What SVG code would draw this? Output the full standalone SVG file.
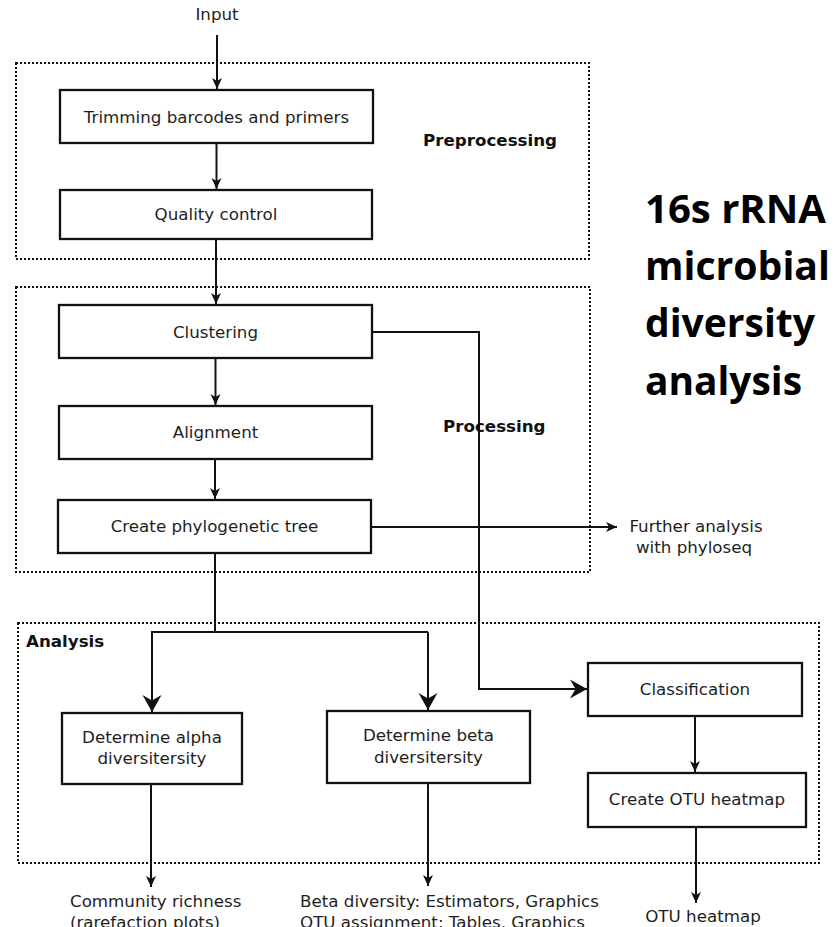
<svg xmlns="http://www.w3.org/2000/svg" width="837" height="927" viewBox="0 0 837 927">
<style>
.t{font-family:"DejaVu Sans",sans-serif;font-size:16.7px;fill:#1e1e1e}
.c{text-anchor:middle}
.b{font-family:"DejaVu Sans",sans-serif;font-size:16.7px;font-weight:bold;fill:#111}
.ti{font-family:"Open Sans","Liberation Sans",sans-serif;font-size:40px;font-weight:bold;fill:#000}
.box{fill:#fff;stroke:#111;stroke-width:2.3}
.grp{fill:none;stroke:#111;stroke-width:2;stroke-dasharray:2 2}
.ln{fill:none;stroke:#111;stroke-width:2}
.s{marker-end:url(#sm)}
.l{marker-end:url(#lg)}
</style>
<defs>
<marker id="sm" viewBox="-14 -8 16 16" markerWidth="16" markerHeight="16" refX="0" refY="0" orient="auto" markerUnits="userSpaceOnUse" overflow="visible">
<path d="M0,0 L-11,-5 L-8,0 L-11,5 Z" fill="#111"/>
</marker>
<marker id="lg" viewBox="-20 -11 22 22" markerWidth="22" markerHeight="22" refX="0" refY="0" orient="auto" markerUnits="userSpaceOnUse" overflow="visible">
<path d="M0,0 L-17,-9.5 L-11.5,0 L-17,9.5 Z" fill="#111"/>
</marker>
</defs>
<rect width="837" height="927" fill="#fff"/>

<g id="groups">
<g id="preprocessing"><rect class="grp" x="16" y="63" width="573" height="196"/><text class="b" x="423" y="146">Preprocessing</text></g>
<g id="processing"><rect class="grp" x="16" y="287" width="574" height="285"/><text class="b" x="443" y="432">Processing</text></g>
<g id="analysis"><rect class="grp" x="18" y="623" width="801" height="240"/><text class="b" x="26" y="647">Analysis</text></g>
</g>

<g id="connectors">
<path class="ln s" d="M217,35 V89"/>
<path class="ln s" d="M216.5,143 V189"/>
<path class="ln s" d="M216,239 V304"/>
<path class="ln s" d="M215.5,358 V405"/>
<path class="ln s" d="M215,459 V499"/>
<path class="ln s" d="M371,527 H617"/>
<path class="ln l" d="M372,332 H479 V689 H587"/>
<path class="ln" d="M215,553 V632 H428"/>
<path class="ln l" d="M215,632 H152 V712"/>
<path class="ln l" d="M428,632 V710"/>
<path class="ln s" d="M151,784 V887"/>
<path class="ln s" d="M428,783 V886"/>
<path class="ln s" d="M695,716 V772"/>
<path class="ln s" d="M696,827 V903"/>
</g>

<g id="input"><text class="t c" x="217" y="19.5">Input</text></g>
<g id="trimming"><rect class="box" x="60" y="90" width="313" height="53"/><text class="t c" x="216.5" y="122.5">Trimming barcodes and primers</text></g>
<g id="quality"><rect class="box" x="60" y="190" width="312" height="49"/><text class="t c" x="216" y="220">Quality control</text></g>
<g id="clustering"><rect class="box" x="59" y="305" width="313" height="53"/><text class="t c" x="215.5" y="338">Clustering</text></g>
<g id="alignment"><rect class="box" x="59" y="406" width="313" height="53"/><text class="t c" x="215.5" y="438">Alignment</text></g>
<g id="tree"><rect class="box" x="58" y="500" width="313" height="53"/><text class="t c" x="214.5" y="532">Create phylogenetic tree</text></g>
<g id="further"><text class="t c" x="696" y="532">Further analysis</text><text class="t c" x="694" y="553">with phyloseq</text></g>
<g id="alpha"><rect class="box" x="62" y="713" width="180" height="71"/><text class="t c" x="152" y="743">Determine alpha</text><text class="t c" x="152" y="764">diversitersity</text></g>
<g id="beta"><rect class="box" x="327" y="711" width="203" height="72"/><text class="t c" x="428.5" y="741">Determine beta</text><text class="t c" x="428.5" y="763">diversitersity</text></g>
<g id="classification"><rect class="box" x="588" y="663" width="214" height="53"/><text class="t c" x="695" y="695">Classification</text></g>
<g id="heatmap"><rect class="box" x="588" y="773" width="218" height="54"/><text class="t c" x="697" y="805">Create OTU heatmap</text></g>
<g id="richness"><text class="t" x="70" y="907">Community richness</text><text class="t" x="70" y="928">(rarefaction plots)</text></g>
<g id="betaout"><text class="t" x="300" y="907">Beta diversity: Estimators, Graphics</text><text class="t" x="300" y="928">OTU assignment: Tables, Graphics</text></g>
<g id="otuout"><text class="t c" x="703" y="922">OTU heatmap</text></g>

<g id="title">
<text class="ti" x="645" y="223" textLength="181" lengthAdjust="spacingAndGlyphs">16s rRNA</text>
<text class="ti" x="645" y="280" textLength="185" lengthAdjust="spacingAndGlyphs">microbial</text>
<text class="ti" x="645" y="337" textLength="170" lengthAdjust="spacingAndGlyphs">diversity</text>
<text class="ti" x="645" y="395" textLength="157" lengthAdjust="spacingAndGlyphs">analysis</text>
</g>
</svg>
